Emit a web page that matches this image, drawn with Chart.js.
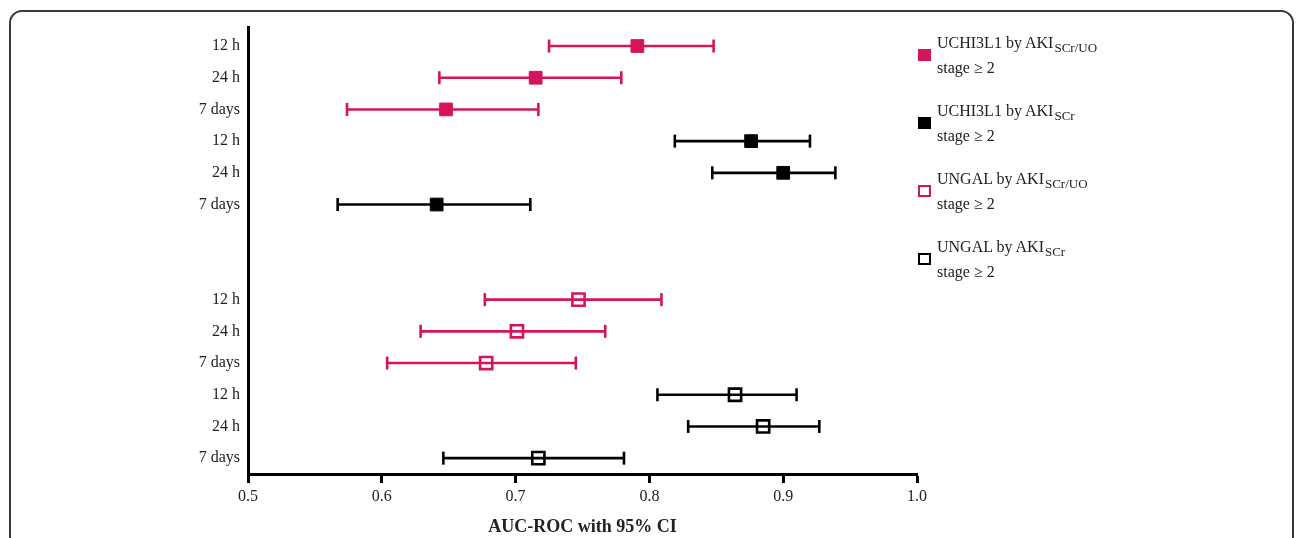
<!DOCTYPE html>
<html lang="en">
<head>
    <meta charset="UTF-8">
    <title>AUC-ROC with 95% CI</title>
    <script src="https://cdn.jsdelivr.net/npm/chart.js"></script>
    <style>
        body { margin: 0; width: 1296px; height: 538px; overflow: hidden; background: #fff; font-family: "Liberation Serif", "DejaVu Serif", serif; color: #222; position: relative; }
        .frame { position: absolute; left: 9px; top: 10px; width: 1285px; height: 620px; box-sizing: border-box; border: 2px solid #3a3a3a; border-radius: 13px; }
        .chart-box { position: absolute; left: 0; top: 0; width: 940px; height: 538px; }

        /* Legend */
        .legend { position: absolute; left: 918px; top: 30px; }
        .legend-item { position: relative; height: 68px; padding-left: 19px; font-size: 16px; line-height: 25px; color: #222; }
        .legend-item .mark { position: absolute; left: 0; top: 19px; width: 13px; height: 12px; box-sizing: border-box; }
        .legend-item sub { font-size: 13px; line-height: 0; vertical-align: baseline; position: relative; top: 4px; margin-left: 1px; }
    </style>
</head>
<body>

    <div class="frame"></div>

    <div class="chart-box">
        <canvas id="aucChart"></canvas>
    </div>

    <!-- Legend -->
    <div class="legend">
        <div class="legend-item"><span class="mark" style="background:#d6145b"></span>UCHI3L1 by AKI<sub>SCr/UO</sub><br>stage &ge; 2</div>
        <div class="legend-item"><span class="mark" style="background:#000"></span>UCHI3L1 by AKI<sub>SCr</sub><br>stage &ge; 2</div>
        <div class="legend-item"><span class="mark" style="border:2.5px solid #d6145b"></span>UNGAL by AKI<sub>SCr/UO</sub><br>stage &ge; 2</div>
        <div class="legend-item"><span class="mark" style="border:2.5px solid #000"></span>UNGAL by AKI<sub>SCr</sub><br>stage &ge; 2</div>
    </div>

    <script>
        // Data
        const timepoints = ['12 h', '24 h', '7 days'];
        const groupNames = ['UCHI3L1 by AKI SCr/UO', 'UCHI3L1 by AKI SCr', 'UNGAL by AKI SCr/UO', 'UNGAL by AKI SCr'];

        const uchiScrUoAuc  = [0.791, 0.715, 0.648];
        const uchiScrUoLow  = [0.725, 0.643, 0.574];
        const uchiScrUoHigh = [0.848, 0.779, 0.717];

        const uchiScrAuc  = [0.876, 0.900, 0.641];
        const uchiScrLow  = [0.819, 0.847, 0.567];
        const uchiScrHigh = [0.920, 0.939, 0.711];

        const ungalScrUoAuc  = [0.747, 0.701, 0.678];
        const ungalScrUoLow  = [0.677, 0.629, 0.604];
        const ungalScrUoHigh = [0.809, 0.767, 0.745];

        const ungalScrAuc  = [0.864, 0.885, 0.717];
        const ungalScrLow  = [0.806, 0.829, 0.646];
        const ungalScrHigh = [0.910, 0.927, 0.781];

        const xTicks = [0.5, 0.6, 0.7, 0.8, 0.9, 1.0];

        // row where each group starts (two empty rows between UCHI3L1 and UNGAL)
        const groupStart = [0, 3, 8, 11];

        const pink = '#d6145b';
        const black = '#000000';

        const groups = [
            { auc: uchiScrUoAuc,  low: uchiScrUoLow,  high: uchiScrUoHigh,  color: pink,  filled: true },
            { auc: uchiScrAuc,    low: uchiScrLow,    high: uchiScrHigh,    color: black, filled: true },
            { auc: ungalScrUoAuc, low: ungalScrUoLow, high: ungalScrUoHigh, color: pink,  filled: false },
            { auc: ungalScrAuc,   low: ungalScrLow,   high: ungalScrHigh,   color: black, filled: false }
        ];

        const rowLabels = {};
        const datasets = [];

        groups.forEach((g, gi) => {
            timepoints.forEach((tp, ti) => {
                const row = groupStart[gi] + ti;
                rowLabels[row] = tp;

                // confidence interval with end caps
                datasets.push({
                    label: groupNames[gi] + ' CI ' + tp,
                    data: [{ x: g.low[ti], y: row }, { x: g.high[ti], y: row }],
                    showLine: true,
                    borderColor: g.color,
                    borderWidth: 2.6,
                    pointStyle: 'line',
                    rotation: 90,
                    pointRadius: 6.5,
                    pointBorderWidth: 2.6,
                    pointBorderColor: g.color,
                    order: 1
                });
            });

            // AUC point estimates
            datasets.push({
                label: groupNames[gi],
                data: g.auc.map((v, ti) => ({ x: v, y: groupStart[gi] + ti })),
                showLine: false,
                pointStyle: 'rect',
                pointRadius: g.filled ? 9 : 8.6,
                pointBackgroundColor: g.filled ? g.color : 'rgba(0,0,0,0)',
                pointBorderColor: g.color,
                pointBorderWidth: g.filled ? 1 : 2.6,
                order: 0
            });
        });

        const rows = Object.keys(rowLabels).map(Number);

        new Chart(document.getElementById('aucChart').getContext('2d'), {
            type: 'scatter',
            data: { datasets: datasets },
            options: {
                responsive: true,
                maintainAspectRatio: false,
                animation: false,
                devicePixelRatio: 1,
                layout: { padding: { top: 27, right: 23, left: 0, bottom: 0 } },
                plugins: { legend: { display: false }, tooltip: { enabled: false } },
                scales: {
                    x: {
                        type: 'linear',
                        min: 0.5,
                        max: 1.0,
                        afterBuildTicks: (scale) => { scale.ticks = xTicks.map(v => ({ value: v })); },
                        afterFit: (scale) => { scale.height = 64; },
                        ticks: {
                            padding: 4,
                            color: '#222',
                            font: { family: 'Liberation Serif', size: 16 },
                            callback: (v) => v.toFixed(1)
                        },
                        grid: { drawOnChartArea: false, drawTicks: true, tickLength: 9, tickWidth: 3, tickColor: '#000' },
                        border: { display: true, color: '#000', width: 3 },
                        title: {
                            display: true,
                            text: 'AUC-ROC with 95% CI',
                            color: '#222',
                            padding: { top: 0, bottom: 0 },
                            font: { family: 'Liberation Serif', size: 18, weight: 'bold' }
                        }
                    },
                    y: {
                        type: 'linear',
                        reverse: true,
                        min: -0.6,
                        max: 13.5,
                        afterBuildTicks: (scale) => { scale.ticks = rows.map(v => ({ value: v })); },
                        afterFit: (scale) => { scale.width = 248; },
                        ticks: {
                            padding: 8,
                            color: '#222',
                            font: { family: 'Liberation Serif', size: 16 },
                            callback: (v) => rowLabels[v] || ''
                        },
                        grid: { drawOnChartArea: false, drawTicks: false },
                        border: { display: true, color: '#000', width: 3 }
                    }
                }
            }
        });
    </script>

</body>
</html>
